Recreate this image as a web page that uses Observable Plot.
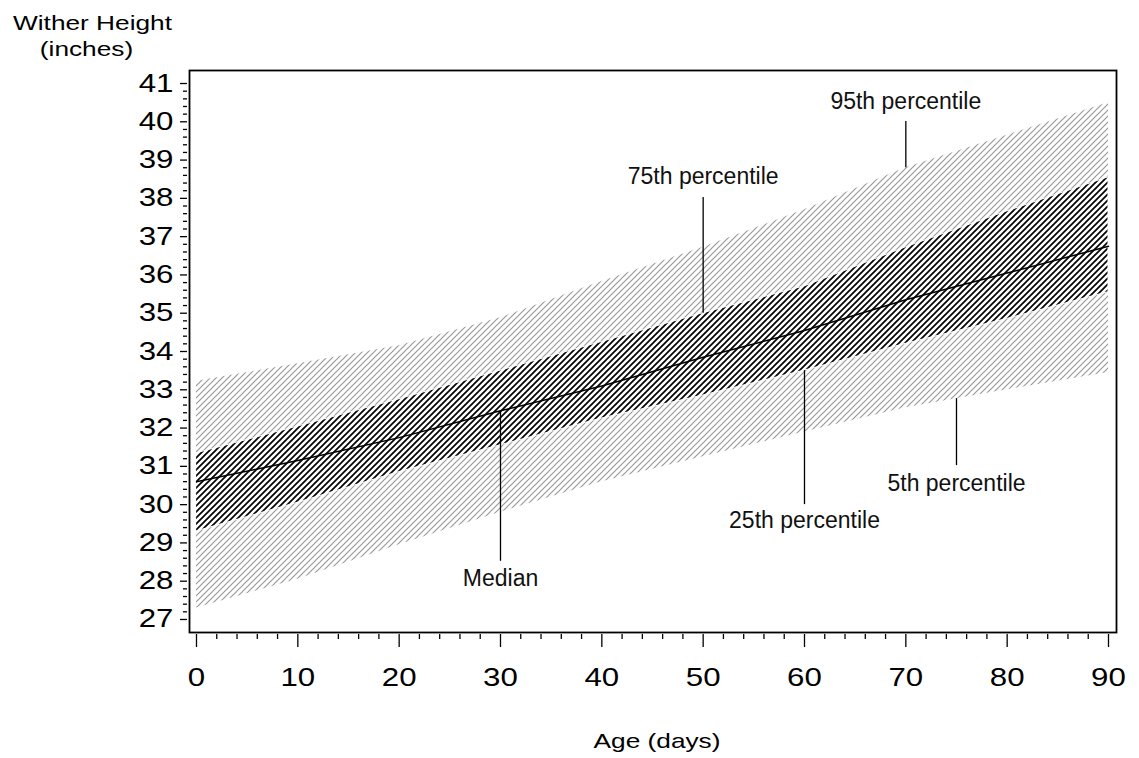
<!DOCTYPE html>
<html><head><meta charset="utf-8">
<script src="https://cdn.jsdelivr.net/npm/d3@7"></script>
<script src="https://cdn.jsdelivr.net/npm/@observablehq/plot@0.6"></script>
<style>
body{margin:0;background:#fff}
svg{font-family:"Liberation Sans",Arial,Helvetica,sans-serif}
</style>
</head><body><div id="chart"></div>
<script>
// ---- data ----
const days = [0, 10, 20, 30, 40, 50, 60, 70, 80, 90];
const p95  = [33.22, 33.68, 34.15, 34.88, 35.83, 36.72, 37.70, 38.80, 39.65, 40.50];
const p75  = [31.34, 32.04, 32.75, 33.50, 34.25, 35.00, 35.70, 36.72, 37.66, 38.55];
const p50  = [30.60, 31.15, 31.75, 32.45, 33.10, 33.85, 34.55, 35.35, 36.05, 36.75];
const p25  = [29.30, 30.05, 30.85, 31.55, 32.25, 32.85, 33.50, 34.20, 34.85, 35.55];
const p5   = [27.30, 28.05, 28.95, 29.80, 30.60, 31.25, 31.90, 32.53, 33.00, 33.45];

const labels      = ["95th percentile", "75th percentile", "Median", "25th percentile", "5th percentile"];
const labelDay    = [70, 50, 30, 60, 75];
const labelValue  = [40.54, 38.58, 28.08, 29.57, 30.56];
const pointerFrom = [38.80, 35.00, 32.45, 33.50, 32.77];
const pointerTo   = [40.01, 38.02, 28.52, 30.00, 31.02];

const xTicks = [0, 10, 20, 30, 40, 50, 60, 70, 80, 90];
const xMinorTicks = d3.range(0, 91, 2).filter(d => d % 10 !== 0);
const yTicks = [27, 28, 29, 30, 31, 32, 33, 34, 35, 36, 37, 38, 39, 40, 41];
const yMinorTicks = d3.range(27, 41.01, 0.2).map(d => +d.toFixed(1)).filter(d => Math.abs(d - Math.round(d)) > 0.01);

const yTitle1 = "Wither Height";
const yTitle2 = "(inches)";
const xTitle = "Age (days)";

// ---- tables ----
const rows = days.map((d, i) => ({day: d, p5: p5[i], p25: p25[i], p50: p50[i], p75: p75[i], p95: p95[i]}));
const notes = labels.map((l, i) => ({label: l, day: labelDay[i], value: labelValue[i], from: pointerFrom[i], to: pointerTo[i]}));

const plot = Plot.plot({
  width: 1139,
  height: 758,
  marginLeft: 189,
  marginRight: 23,
  marginTop: 70,
  marginBottom: 126,
  style: {background: "white", color: "black", fontFamily: "'Liberation Sans', Arial, sans-serif"},
  x: {domain: [-0.69, 90.79], axis: null},
  y: {domain: [26.66, 41.34], axis: null},
  marks: [
    Plot.areaY(rows, {x: "day", y1: "p5", y2: "p95", fill: "url(#hatchLight)"}),
    Plot.areaY(rows, {x: "day", y1: "p25", y2: "p75", fill: "url(#hatchDark)", stroke: "white", strokeWidth: 1}),
    Plot.lineY(rows, {x: "day", y: "p50", stroke: "black", strokeWidth: 1.5}),
    Plot.ruleX(notes, {x: "day", y1: "from", y2: "to", stroke: "black", strokeWidth: 1.3}),
    Plot.text(notes, {x: "day", y: "value", text: "label", fontSize: 23, lineAnchor: "middle", fill: "#111"}),
    Plot.frame({stroke: "black", strokeWidth: 1.8}),
    Plot.axisY({ticks: yTicks, tickSize: 7, tickPadding: 7, dx: -2, fontSize: 25, tickFormat: d => String(d), label: null, strokeWidth: 1.3}),
    Plot.axisY({ticks: yMinorTicks, tickSize: 4, dx: -2, tickFormat: () => "", label: null, strokeWidth: 1.3}),
    Plot.axisX({ticks: xTicks, tickSize: 13, tickPadding: 21, dy: 2, fontSize: 25, tickFormat: d => String(d), label: null, strokeWidth: 1.3}),
    Plot.axisX({ticks: xMinorTicks, tickSize: 5, dy: 2, tickFormat: () => "", label: null, strokeWidth: 1.3}),
    Plot.text([yTitle1], {frameAnchor: "top-left", dx: -97, dy: -55, fontSize: 21, textAnchor: "middle", lineAnchor: "top"}),
    Plot.text([yTitle2], {frameAnchor: "top-left", dx: -103, dy: -29, fontSize: 21, textAnchor: "middle", lineAnchor: "top"}),
    Plot.text([xTitle], {frameAnchor: "bottom", dx: 4, dy: 101, fontSize: 21, textAnchor: "middle", lineAnchor: "top"})
  ]
});

// hatch patterns
const svg = d3.select(plot);
const defs = svg.insert("defs", ":first-child");
const pl = defs.append("pattern").attr("id", "hatchLight").attr("patternUnits", "userSpaceOnUse").attr("width", 6).attr("height", 6);
pl.append("path").attr("d", "M-1,1L1,-1M0,6L6,0M5,7L7,5").attr("stroke", "#999").attr("stroke-width", 1.2).attr("fill", "none");
const pd = defs.append("pattern").attr("id", "hatchDark").attr("patternUnits", "userSpaceOnUse").attr("width", 6).attr("height", 6);
pd.append("rect").attr("width", 6).attr("height", 6).attr("fill", "white");
pd.append("path").attr("d", "M-1,1L1,-1M0,6L6,0M5,7L7,5").attr("stroke", "black").attr("stroke-width", 1.7).attr("fill", "none");

// horizontally stretched axis lettering
function stretch(el, s) {
  const t = el.getAttribute("transform");
  if (t) el.setAttribute("transform", t + ` scale(${s},1)`);
  else {
    const x = +el.getAttribute("x") || 0, y = +el.getAttribute("y") || 0;
    el.removeAttribute("x"); el.removeAttribute("y");
    el.setAttribute("transform", `translate(${x},${y}) scale(${s},1)`);
  }
}
svg.selectAll('g[aria-label="y-axis tick label"] text, g[aria-label="x-axis tick label"] text').each(function() { stretch(this, 1.25); });
svg.selectAll("text").each(function() {
  const c = this.textContent;
  if (c === yTitle1 || c === yTitle2 || c === xTitle) stretch(this, 1.25);
});

document.getElementById("chart").appendChild(plot);
</script>
</body></html>
